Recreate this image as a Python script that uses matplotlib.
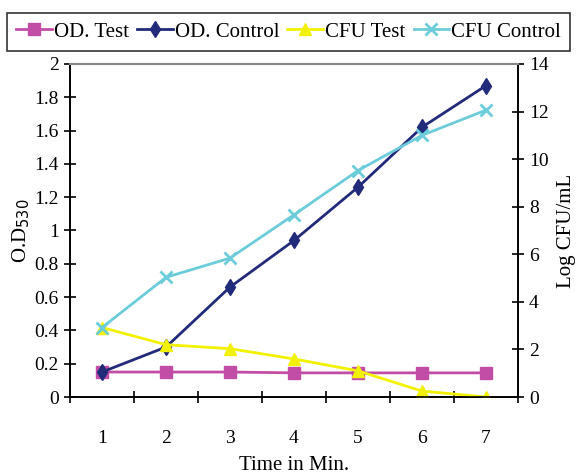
import matplotlib
matplotlib.use("Agg")
import matplotlib.pyplot as plt
import numpy as np

plt.rcParams['font.family'] = ['Liberation Serif', 'DejaVu Serif']

time_min = [1, 2, 3, 4, 5, 6, 7]
od_test = [0.15, 0.15, 0.15, 0.145, 0.145, 0.145, 0.145]
od_control = [0.15, 0.30, 0.66, 0.94, 1.26, 1.62, 1.87]
cfu_test = [2.92, 2.2, 2.03, 1.6, 1.1, 0.25, 0.0]
cfu_control = [2.92, 5.03, 5.84, 7.66, 9.52, 11.0, 12.06]

c_odt = '#C24DA6'
c_odc = '#222A7A'
c_cfut = '#F2F200'
c_cfuc = '#6CCCDA'

fig = plt.figure(figsize=(5.77, 4.75), dpi=100)
ax = fig.add_axes([0.1213, 0.1642, 0.7764, 0.7011])
ax2 = ax.twinx()

l1, = ax.plot(time_min, od_test, color=c_odt, marker='s', markersize=8, lw=2, label='OD. Test')
l2, = ax.plot(time_min, od_control, color=c_odc, marker='d', markersize=8, lw=2, label='OD. Control')
l3, = ax2.plot(time_min, cfu_test, color=c_cfut, marker='^', markersize=9, lw=2, label='CFU Test')
l4, = ax2.plot(time_min, cfu_control, color=c_cfuc, marker='x', markersize=9, mew=2, lw=2, label='CFU Control')

ax.set_xlim(0.5, 7.5)
ax.set_ylim(0, 2)
ax2.set_ylim(0, 14)
ax.set_yticks(np.arange(0, 2.01, 0.2))
ax.set_yticklabels(['0', '0.2', '0.4', '0.6', '0.8', '1', '1.2', '1.4', '1.6', '1.8', '2'])
ax2.set_yticks(np.arange(0, 15, 2))

ax.set_xticks(np.arange(0.5, 7.6, 1))
ax.set_xticklabels([])
ax.set_xticks(time_min, minor=True)
ax.set_xticklabels([str(t) for t in time_min], minor=True)
ax.tick_params(axis='x', which='major', direction='inout', length=9, width=1.2)
ax.tick_params(axis='x', which='minor', length=0, pad=24, labelsize=14)
ax.tick_params(axis='y', direction='inout', length=9, width=1.2, labelsize=14)
ax2.tick_params(axis='y', direction='inout', length=9, width=1.2, labelsize=14)

for a in (ax, ax2):
    for s in ['left', 'right', 'bottom']:
        a.spines[s].set_linewidth(1.2)
    a.spines['top'].set_color('#888888')
    a.spines['top'].set_linewidth(1.5)

ax.set_ylabel('O.D$_{530}$', fontsize=15, labelpad=2)
ax2.set_ylabel('Log CFU/mL', fontsize=15, labelpad=6)
ax.set_xlabel('Time in Min.', fontsize=15, labelpad=6)

leg = fig.legend(handles=[l1, l2, l3, l4], loc='center', bbox_to_anchor=(0.5, 0.933),
                 ncol=4, fontsize=15, frameon=True, fancybox=False, edgecolor='black',
                 handlelength=1.7, handletextpad=0.1, columnspacing=0.4, borderpad=0.45)
leg.get_frame().set_linewidth(1.2)

fig.savefig('out.png', dpi=100)
